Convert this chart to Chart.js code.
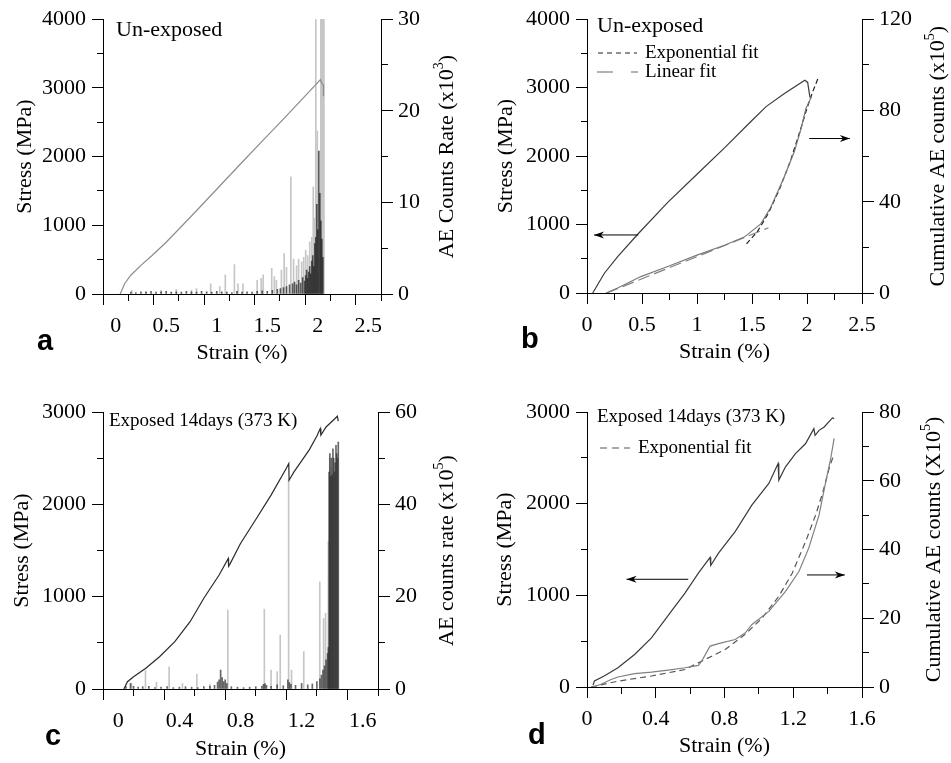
<!DOCTYPE html>
<html>
<head>
<meta charset="utf-8">
<script src="https://cdn.jsdelivr.net/npm/chart.js@4.4.1/dist/chart.umd.min.js"></script>
<style>
  body { margin: 0; background: #fff; }
  #fig { position: relative; width: 951px; height: 763px; }
  canvas { position: absolute; }
  .tag { position: absolute; font: bold 29px 'Liberation Sans', Arial, sans-serif; line-height: 29px; }
</style>
</head>
<body>
<div id="fig">
  <canvas id="pa" width="475" height="380" style="left:0;top:0"></canvas>
  <canvas id="pb" width="476" height="380" style="left:475px;top:0"></canvas>
  <canvas id="pc" width="475" height="383" style="left:0;top:380px"></canvas>
  <canvas id="pd" width="476" height="383" style="left:475px;top:380px"></canvas>
  <div class="tag" style="left:37px;top:326px">a</div>
  <div class="tag" style="left:521px;top:324px">b</div>
  <div class="tag" style="left:45px;top:721px">c</div>
  <div class="tag" style="left:528px;top:720px">d</div>
</div>
<script>
const SERIF = "'Liberation Serif', 'Times New Roman', serif";

// ---- a : un-exposed, stress + AE counts rate (x10^3)
const aStrain = [0.045, 0.09, 0.15, 0.25, 0.36, 0.5, 0.75, 1.0, 1.232, 1.45, 1.652, 1.85, 2.026, 2.04, 2.055, 2.056];
const aStress = [0, 153, 273, 417, 561, 753, 1135, 1525, 1889, 2225, 2535, 2845, 3120, 3070, 3040, 2880];
const aDarkX = [0.15, 0.2, 0.25, 0.3, 0.35, 0.4, 0.45, 0.5, 0.55, 0.6, 0.65, 0.7, 0.75, 0.8, 0.85, 0.9, 0.95, 1.0, 1.05, 1.1,
  1.15, 1.2, 1.25, 1.3, 1.35, 1.4, 1.45, 1.5, 1.55, 1.6, 1.63, 1.66, 1.69, 1.72, 1.75, 1.77, 1.79, 1.81, 1.83, 1.85, 1.87,
  1.88, 1.89, 1.9, 1.91, 1.92, 1.93, 1.94, 1.95, 1.96, 1.97, 1.98, 1.99, 2.0, 2.01, 2.02, 2.03, 2.04, 2.05];
const aDarkY = [0.2, 0.15, 0.25, 0.2, 0.3, 0.2, 0.25, 0.3, 0.2, 0.25, 0.2, 0.3, 0.25, 0.2, 0.3, 0.25, 0.2, 0.3, 0.25, 0.2,
  0.15, 0.3, 0.2, 0.25, 0.2, 0.3, 0.35, 0.3, 0.4, 0.5, 0.6, 0.7, 0.8, 1.0, 1.1, 1.3, 1.0, 1.5, 1.2, 1.8, 1.4,
  2.0, 2.6, 1.7, 2.4, 3.0, 2.2, 3.6, 4.2, 3.0, 5.5, 6.2, 9.8, 7.0, 15.6, 11.0, 8.0, 6.0, 4.0];
const aLightX = [0.16, 0.3, 0.45, 0.6, 0.75, 0.8, 0.94, 1.03, 1.085, 1.175, 1.21, 1.26, 1.4, 1.44, 1.46, 1.544, 1.57, 1.59, 1.64, 1.667,
  1.69, 1.733, 1.76, 1.79, 1.81, 1.84, 1.86, 1.88, 1.9, 1.92, 1.94, 1.955, 1.97, 1.98, 1.995, 2.03, 2.035, 2.04, 2.045, 2.05, 2.055, 2.06];
const aLightY = [0.4, 0.3, 0.4, 0.5, 0.4, 0.6, 1.1, 0.8, 2.1, 3.2, 1.1, 1.1, 1.5, 1.7, 2.1, 2.8, 1.9, 1.5, 2.6, 4.4,
  2.9, 12.8, 3.8, 3.1, 3.8, 3.5, 4.0, 4.8, 4.2, 5.7, 6.2, 11.7, 8.3, 32, 17.8, 32, 32, 32, 32, 32, 32, 32];

// ---- b : un-exposed, stress + cumulative AE counts (x10^5)
const bStrain = [0.052, 0.158, 0.279, 0.461, 0.734, 1.0, 1.25, 1.49, 1.628, 1.795, 1.98, 2.006, 2.027];
const bStress = [0, 289, 530, 858, 1325, 1735, 2120, 2506, 2723, 2916, 3109, 3076, 2859];
const bAeStrain = [0.173, 0.279, 0.49, 0.734, 1.0, 1.25, 1.43, 1.58, 1.67, 1.79, 1.886, 1.947, 1.99, 2.04];
const bAeCum = [0, 2.2, 7.2, 11.6, 16.6, 20.9, 24.5, 30.3, 37.5, 50.5, 62.1, 72.2, 80.9, 85.9];
const bExpStrain = [1.45, 1.55, 1.65, 1.75, 1.85, 1.95, 2.0, 2.05, 2.1];
const bExpCum = [21.5, 27, 35, 45.5, 58, 73, 81, 88, 94];
const bLinStrain = [0.18, 1.65];
const bLinCum = [0, 28.6];

// ---- c : exposed 14 days, stress + AE counts rate (x10^5)
const cStrain = [0.037, 0.06, 0.1, 0.18, 0.27, 0.37, 0.47, 0.56, 0.66, 0.72, 0.722, 0.73, 0.8, 0.9, 1.0, 1.1, 1.116, 1.118, 1.15, 1.2,
  1.25, 1.3, 1.322, 1.326, 1.36, 1.4, 1.434, 1.44];
const cStress = [0, 79, 133, 224, 350, 512, 729, 983, 1235, 1414, 1330, 1350, 1576, 1836, 2100, 2390, 2441, 2261, 2351, 2470,
  2590, 2740, 2820, 2748, 2838, 2900, 2954, 2900];
const cDarkX = [0.05, 0.08, 0.1, 0.13, 0.16, 0.2, 0.24, 0.28, 0.32, 0.36, 0.4, 0.44, 0.48, 0.52, 0.56, 0.6, 0.63, 0.65, 0.66, 0.67,
  0.68, 0.69, 0.7, 0.71, 0.74, 0.78, 0.82, 0.86, 0.9, 0.94, 0.95, 0.96, 0.97, 1.0, 1.04, 1.08, 1.11, 1.12, 1.13, 1.16,
  1.2, 1.24, 1.27, 1.3, 1.32, 1.33, 1.34, 1.35, 1.36, 1.37, 1.375, 1.38, 1.385, 1.39, 1.395, 1.4, 1.405, 1.41, 1.415, 1.42,
  1.425, 1.43, 1.435, 1.44];
const cDarkY = [0.5, 1.2, 0.6, 0.4, 0.5, 0.6, 0.3, 0.4, 0.5, 0.3, 0.4, 0.5, 0.4, 0.3, 0.5, 0.6, 0.8, 1.5, 2.0, 4.1,
  2.5, 1.6, 2.0, 1.2, 0.5, 0.4, 0.3, 0.4, 0.5, 0.6, 1.0, 1.2, 0.8, 0.6, 0.9, 0.7, 2.0, 1.4, 1.0, 0.8,
  1.2, 0.9, 1.1, 1.6, 2.2, 3.0, 4.1, 5.0, 6.3, 7.7, 9.0, 47, 51, 46, 50, 46.4, 52, 50, 47, 49,
  52.8, 51, 50, 53.5];
const cLightX = [0.087, 0.178, 0.25, 0.333, 0.42, 0.514, 0.6, 0.717, 0.956, 1.0, 1.04, 1.06, 1.115, 1.134, 1.214, 1.319, 1.344, 1.357, 1.375, 1.384, 1.39];
const cLightY = [1.2, 4.0, 1.5, 4.8, 1.2, 3.2, 1.0, 17.1, 17.3, 4.1, 3.8, 11.7, 45.3, 4.1, 8.1, 23.2, 15.3, 16.4, 32, 50, 48];

// ---- d : exposed 14 days, stress + cumulative AE counts (x10^5)
const dStrain = [0.035, 0.043, 0.1, 0.18, 0.277, 0.375, 0.49, 0.57, 0.648, 0.716, 0.72, 0.765, 0.862, 0.96, 1.058, 1.112, 1.116, 1.155, 1.213, 1.272,
  1.32, 1.327, 1.35, 1.38, 1.428, 1.438];
const dStress = [20, 65, 120, 210, 355, 536, 826, 1025, 1243, 1413, 1326, 1460, 1696, 1986, 2221, 2438, 2257, 2402, 2547, 2656,
  2819, 2746, 2800, 2837, 2935, 2928];
const dAeStrain = [0.033, 0.082, 0.14, 0.18, 0.277, 0.375, 0.472, 0.57, 0.648, 0.667, 0.716, 0.765, 0.862, 0.92, 0.96, 1.058, 1.155, 1.233, 1.29, 1.35,
  1.389, 1.418, 1.438];
const dAeCum = [0, 0.8, 2.2, 2.9, 3.9, 4.3, 4.9, 5.6, 6.3, 7.5, 11.9, 12.6, 13.8, 15.7, 18.2, 22.0, 27.8, 33.6, 40.4, 50.0,
  59.7, 66.5, 72.3];
const dExpStrain = [0.023, 0.18, 0.375, 0.57, 0.687, 0.804, 0.92, 1.02, 1.116, 1.194, 1.272, 1.33, 1.37, 1.409, 1.438];
const dExpCum = [0, 1.7, 3.2, 5.1, 8.0, 10.9, 15.3, 20.1, 26.4, 33.1, 42.3, 50.0, 56.3, 63.6, 67.9];

function pts(xs, ys) {
  return xs.map((x, i) => ({x: x, y: ys[i]}));
}

// axis with short minor ticks and labels only on the major values
function axis(pos, min, max, step, major, size, title) {
  const isMajor = v => Math.abs(v / major - Math.round(v / major)) < 1e-6;
  const len = pos === 'right' ? 12 : 11;
  const minor = 6;
  const s = {
    type: 'linear', position: pos, min: min, max: max,
    border: {display: true, color: '#000', width: 1},
    grid: {
      drawOnChartArea: false, tickLength: len, tickColor: '#000', tickWidth: 1,
      tickBorderDash: c => (c.tick && isMajor(c.tick.value)) ? [] : (pos === 'left' ? [0, len - minor, minor, 50] : [minor, 50])
    },
    ticks: {
      stepSize: step, autoSkip: false, maxRotation: 0, color: '#000',
      padding: pos === 'bottom' ? 8 : (pos === 'left' ? 6 : 5),
      font: {family: SERIF, size: 22},
      callback: v => isMajor(v) ? String(Math.round(v * 100) / 100) : ''
    },
    afterFit: sc => { if (pos === 'bottom') sc.height = size; else sc.width = size; }
  };
  if (title) {
    s.title = {display: true, text: title.text, color: '#000', font: {family: SERIF, size: 22}, padding: title.pad};
  }
  return s;
}

function line(data, color, dash, yId) {
  return {type: 'line', data: data, borderColor: color, borderWidth: 1.2, borderDash: dash || [],
    pointRadius: 0, tension: 0, fill: false, yAxisID: yId, order: 0};
}

function bars(data, color, ord) {
  return {type: 'bar', data: data, backgroundColor: color, borderWidth: 0, barThickness: 1,
    grouped: false, yAxisID: 'y2', order: ord};
}

function arrow(ctx, x1, y1, x2, y2) {
  ctx.beginPath(); ctx.moveTo(x1, y1); ctx.lineTo(x2, y2); ctx.stroke();
  const a = Math.atan2(y2 - y1, x2 - x1), c = Math.cos(a), s = Math.sin(a);
  ctx.beginPath();
  ctx.moveTo(x2, y2);
  ctx.lineTo(x2 - 10 * c + 3.5 * s, y2 - 10 * s - 3.5 * c);
  ctx.lineTo(x2 - 7 * c, y2 - 7 * s);
  ctx.lineTo(x2 - 10 * c - 3.5 * s, y2 - 10 * s + 3.5 * c);
  ctx.closePath(); ctx.fill();
}

// labels, keys, arrows and the right axis title (reads bottom to top)
const NOTES = {
  pa: {texts: [{text: 'Un-exposed', x: 116, y: 30, size: 22}],
       side: {off: 66, parts: [['AE Counts Rate (x10', 0], ['3', 1], [')', 0]]}},
  pb: {texts: [{text: 'Un-exposed', x: 122, y: 26, size: 22}],
       keys: [{x1: 123, x2: 162, y: 53, dash: [5, 4], color: '#222', text: 'Exponential fit', tx: 170},
              {x1: 122, x2: 163, y: 72, dash: [16, 18, 7, 40], color: '#666', text: 'Linear fit', tx: 170}],
       arrows: [{from: [0.466, 848], to: [0.064, 848], axis: 'y'}, {from: [2.02, 67.7], to: [2.39, 67.7], axis: 'y2'}],
       side: {off: 76, parts: [['Cumulative AE counts (x10', 0], ['5', 1], [')', 0]]}},
  pc: {texts: [{text: 'Exposed 14days (373 K)', x: 109, y: 41, size: 19}],
       side: {off: 69.5, parts: [['AE counts rate (x10', 0], ['5', 1], [')', 0]]}},
  pd: {texts: [{text: 'Exposed 14days (373 K)', x: 122, y: 37, size: 19}],
       keys: [{x1: 125, x2: 155, y: 68, dash: [7, 5], color: '#555', text: 'Exponential fit', tx: 163}],
       arrows: [{from: [0.589, 1175], to: [0.23, 1175], axis: 'y'}, {from: [1.28, 32.6], to: [1.5, 32.6], axis: 'y2'}],
       side: {off: 72, parts: [['Cumulative AE counts (X10', 0], ['5', 1], [')', 0]]}}
};

const notesPlugin = {
  id: 'notes',
  afterDraw(chart) {
    const n = NOTES[chart.canvas.id];
    if (!n) return;
    const ctx = chart.ctx, ca = chart.chartArea, sc = chart.scales;
    ctx.save();
    ctx.fillStyle = '#000'; ctx.strokeStyle = '#000'; ctx.lineWidth = 1;
    ctx.textBaseline = 'middle'; ctx.textAlign = 'left';
    (n.texts || []).forEach(t => {
      ctx.font = t.size + 'px ' + SERIF;
      ctx.fillText(t.text, t.x, t.y);
    });
    (n.keys || []).forEach(k => {
      ctx.save();
      ctx.strokeStyle = k.color; ctx.lineWidth = 1.2; ctx.setLineDash(k.dash);
      ctx.beginPath(); ctx.moveTo(k.x1, k.y); ctx.lineTo(k.x2, k.y); ctx.stroke();
      ctx.restore();
      ctx.font = '19px ' + SERIF;
      ctx.fillText(k.text, k.tx, k.y);
    });
    (n.arrows || []).forEach(a => {
      const ys = sc[a.axis];
      arrow(ctx, sc.x.getPixelForValue(a.from[0]), ys.getPixelForValue(a.from[1]),
        sc.x.getPixelForValue(a.to[0]), ys.getPixelForValue(a.to[1]));
    });
    if (n.side) {
      const big = '22px ' + SERIF, small = '14px ' + SERIF;
      let total = 0;
      n.side.parts.forEach(p => { ctx.font = p[1] ? small : big; total += ctx.measureText(p[0]).width; });
      ctx.translate(ca.right + n.side.off, (ca.top + ca.bottom) / 2);
      ctx.rotate(-Math.PI / 2);
      let x = -total / 2;
      n.side.parts.forEach(p => {
        ctx.font = p[1] ? small : big;
        ctx.fillText(p[0], x, p[1] ? -8 : 0);
        x += ctx.measureText(p[0]).width;
      });
    }
    ctx.restore();
  }
};

function makeChart(id, datasets, scales, pad) {
  return new Chart(document.getElementById(id), {
    type: 'line',
    data: {datasets: datasets},
    options: {
      responsive: false, animation: false, devicePixelRatio: 1, events: [],
      layout: {padding: pad},
      plugins: {legend: {display: false}, tooltip: {enabled: false}},
      scales: scales
    },
    plugins: [notesPlugin]
  });
}

makeChart('pa', [
  line(pts(aStrain, aStress), '#8c8c8c', null, 'y'),
  bars(pts(aDarkX, aDarkY), 'rgba(25,25,25,0.7)', 1),
  bars(pts(aLightX, aLightY), '#c6c6c6', 2)
], {
  x: axis('bottom', 0, 2.5, 0.25, 0.5, 72, {text: 'Strain (%)', pad: {top: 0, bottom: 0}}),
  y: axis('left', 0, 4000, 500, 1000, 103, {text: 'Stress (MPa)', pad: {top: 12, bottom: 0}}),
  y2: axis('right', 0, 30, 5, 10, 94)
}, {left: 0, right: 0, top: 15, bottom: 14});

makeChart('pb', [
  line(pts(bStrain, bStress), '#3c3c3c', null, 'y'),
  line(pts(bAeStrain, bAeCum), '#7a7a7a', null, 'y2'),
  line(pts(bExpStrain, bExpCum), '#222', [5, 3], 'y2'),
  line(pts(bLinStrain, bLinCum), '#808080', [12, 5], 'y2')
], {
  x: axis('bottom', 0, 2.5, 0.25, 0.5, 72, {text: 'Strain (%)', pad: {top: 0, bottom: 0}}),
  y: axis('left', 0, 4000, 500, 1000, 112, {text: 'Stress (MPa)', pad: {top: 18, bottom: 0}}),
  y2: axis('right', 0, 120, 20, 40, 89)
}, {left: 0, right: 0, top: 16, bottom: 15});

makeChart('pc', [
  line(pts(cStrain, cStress), '#2a2a2a', null, 'y'),
  bars(pts(cDarkX, cDarkY), 'rgba(45,45,45,0.72)', 1),
  bars(pts(cLightX, cLightY), '#c6c6c6', 2)
], {
  x: axis('bottom', 0, 1.6, 0.2, 0.4, 74, {text: 'Strain (%)', pad: {top: 0, bottom: 1}}),
  y: axis('left', 0, 3000, 500, 1000, 103, {text: 'Stress (MPa)', pad: {top: 9, bottom: 0}}),
  y2: axis('right', 0, 60, 10, 20, 97)
}, {left: 0, right: 0, top: 32, bottom: 0});

makeChart('pd', [
  line(pts(dStrain, dStress), '#3a3a3a', null, 'y'),
  line(pts(dAeStrain, dAeCum), '#808080', null, 'y2'),
  line(pts(dExpStrain, dExpCum), '#555', [6, 4], 'y2')
], {
  x: axis('bottom', 0, 1.6, 0.2, 0.4, 72, {text: 'Strain (%)', pad: {top: 0, bottom: 0}}),
  y: axis('left', 0, 3000, 500, 1000, 112, {text: 'Stress (MPa)', pad: {top: 17, bottom: 0}}),
  y2: axis('right', 0, 80, 10, 20, 89)
}, {left: 0, right: 0, top: 32, bottom: 4});
</script>
</body>
</html>
